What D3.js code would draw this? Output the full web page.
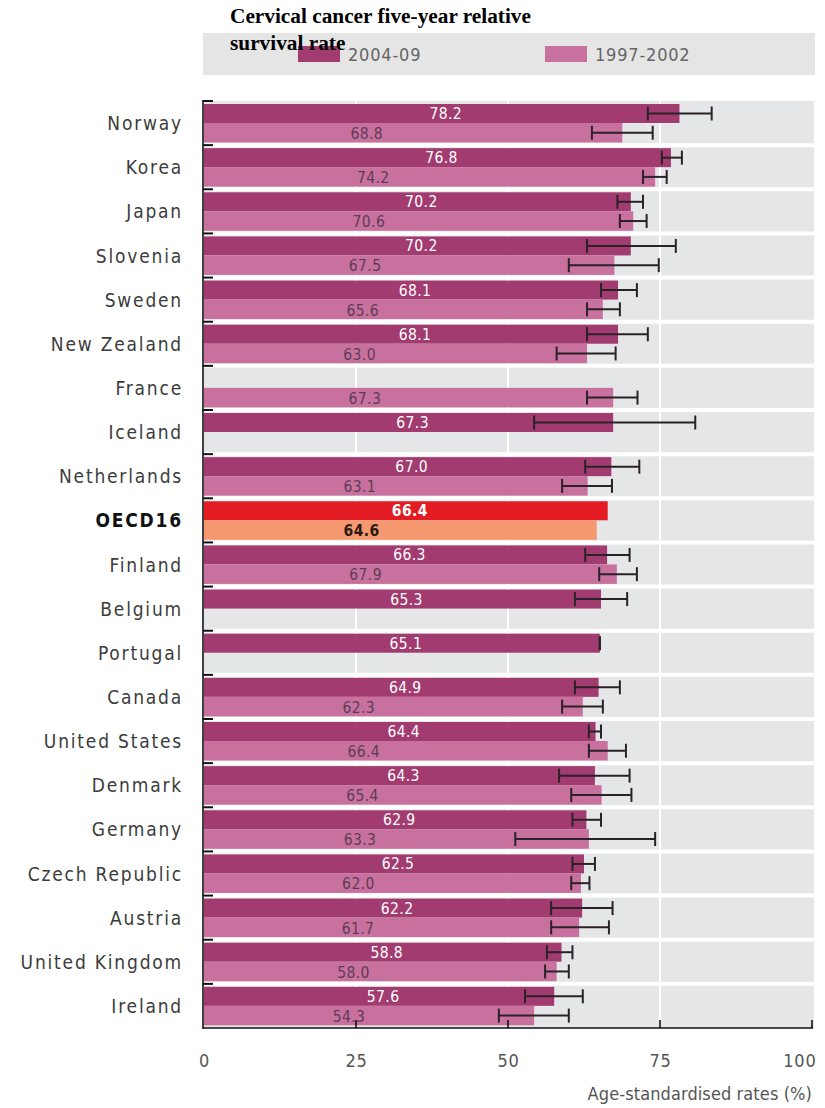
<!DOCTYPE html>
<html>
<head>
<meta charset="utf-8">
<script src="https://cdn.jsdelivr.net/npm/d3@7"></script>
<style>
  html, body { margin: 0; padding: 0; background: #fff; }
  svg { display: block; }
  .cond { font-family: "DejaVu Sans Condensed", "DejaVu Sans", sans-serif; font-stretch: condensed; }
</style>
</head>
<body>
<svg id="chart" width="825" height="1108"></svg>
<script>
const categories = ["Norway","Korea","Japan","Slovenia","Sweden","New Zealand","France","Iceland","Netherlands","OECD16","Finland","Belgium","Portugal","Canada","United States","Denmark","Germany","Czech Republic","Austria","United Kingdom","Ireland"];
const recent      = [78.2,76.8,70.2,70.2,68.1,68.1,null,67.3,67.0,66.4,66.3,65.3,65.1,64.9,64.4,64.3,62.9,62.5,62.2,58.8,57.6];
const recentLow   = [73.0,75.3,68.0,63.0,65.3,63.0,null,54.3,62.7,null,62.7,61.0,65.1,61.0,63.3,58.4,60.6,60.6,57.1,56.4,52.8];
const recentHigh  = [83.5,78.6,72.2,77.6,71.2,73.0,null,80.8,71.6,null,70.0,69.6,65.1,68.4,65.3,70.0,65.3,64.3,67.2,60.6,62.3];
const earlier     = [68.8,74.2,70.6,67.5,65.6,63.0,67.3,null,63.1,64.6,67.9,null,null,62.3,66.4,65.4,63.3,62.0,61.7,58.0,54.3];
const earlierLow  = [63.8,72.2,68.4,60.0,63.0,58.0,63.0,null,58.9,null,65.0,null,null,58.9,63.3,60.4,51.2,60.4,57.1,56.1,48.5];
const earlierHigh = [73.8,76.1,72.8,74.8,68.4,67.7,71.3,null,67.1,null,71.2,null,null,65.6,69.4,70.3,74.2,63.4,66.6,60.0,60.0];
const seriesNames = ["2004-09","1997-2002"];
const xTicks = [0,25,50,75,100];
const highlight = "OECD16";

const svg = d3.select("#chart");
const x = d3.scaleLinear().domain([0,100]).range([204,812]);
const y = d3.scaleBand().domain(categories).range([101,1028]).paddingInner(0).paddingOuter(0);
const bw = y.bandwidth();

const colRecent = "#a23c70", colEarlier = "#c8719f";
const colRecentHi = "#e31b23", colEarlierHi = "#f5986f";
const serif = "'Liberation Serif', 'Times New Roman', serif";

// title line 1
svg.append("text").attr("x",230).attr("y",23)
  .attr("font-family",serif).attr("font-weight","bold")
  .attr("font-size",21.3).attr("fill","#000").text("Cervical cancer five-year relative");

// legend band
svg.append("rect").attr("x",203).attr("y",33).attr("width",612).attr("height",42).attr("fill","#e5e5e6");
const legX = [298, 545];
const legCols = [colRecent, colEarlier];
seriesNames.forEach((s,i) => {
  svg.append("rect").attr("x",legX[i]).attr("y",46).attr("width",42).attr("height",16).attr("fill",legCols[i]);
  svg.append("text").attr("class","cond").attr("x",legX[i]+50).attr("y",61)
    .attr("font-size",18).attr("fill","#666").attr("letter-spacing",0.8).text(s);
});
// title line 2 (drawn over the legend, as in the reference)
svg.append("text").attr("x",230).attr("y",50)
  .attr("font-family",serif).attr("font-weight","bold")
  .attr("font-size",21.3).attr("fill","#000").text("survival rate");

// plot background
svg.append("rect").attr("x",x(0)).attr("y",101).attr("width",x(100)-x(0)+2).attr("height",927).attr("fill","#e5e6e8");
// vertical gridlines
svg.append("g").selectAll("line").data([25,50,75]).join("line")
  .attr("x1",d=>x(d)).attr("x2",d=>x(d)).attr("y1",101).attr("y2",1028)
  .attr("stroke","#fff").attr("stroke-width",2);
// horizontal separators
svg.append("g").selectAll("line").data(categories.slice(1)).join("line")
  .attr("x1",x(0)).attr("x2",x(100)+2).attr("y1",d=>y(d)).attr("y2",d=>y(d))
  .attr("stroke","#fff").attr("stroke-width",4);

const rows = categories.map((c,i) => ({c, i, r: recent[i], rl: recentLow[i], rh: recentHigh[i], e: earlier[i], el: earlierLow[i], eh: earlierHigh[i]}));
const topY = d => y(d.c) + 3, topH = 19;
const botY = d => y(d.c) + 22, botH = 19.5;

// bars
svg.append("g").selectAll("rect").data(rows.filter(d=>d.r!=null)).join("rect")
  .attr("x",x(0)).attr("y",topY).attr("height",topH)
  .attr("width",d=>x(d.r)-x(0)).attr("fill",d=>d.c===highlight?colRecentHi:colRecent);
svg.append("g").selectAll("rect").data(rows.filter(d=>d.e!=null)).join("rect")
  .attr("x",x(0)).attr("y",botY).attr("height",botH)
  .attr("width",d=>x(d.e)-x(0)).attr("fill",d=>d.c===highlight?colEarlierHi:colEarlier);

// error bars
function errBars(data, lo, hi, yc) {
  const g = svg.append("g").attr("stroke","#2a2226").attr("stroke-width",2);
  const dd = data.filter(d=>d[lo]!=null);
  g.selectAll(".h").data(dd).join("line").attr("class","h")
    .attr("x1",d=>x(d[lo])).attr("x2",d=>x(d[hi])).attr("y1",yc).attr("y2",yc);
  g.selectAll(".l").data(dd).join("line").attr("class","l")
    .attr("x1",d=>x(d[lo])).attr("x2",d=>x(d[lo])).attr("y1",d=>yc(d)-7).attr("y2",d=>yc(d)+7);
  g.selectAll(".r").data(dd).join("line").attr("class","r")
    .attr("x1",d=>x(d[hi])).attr("x2",d=>x(d[hi])).attr("y1",d=>yc(d)-7).attr("y2",d=>yc(d)+7);
}
errBars(rows, "rl", "rh", d => topY(d) + topH/2);
errBars(rows, "el", "eh", d => botY(d) + botH/2);

// value labels
svg.append("g").selectAll("text").data(rows.filter(d=>d.r!=null)).join("text")
  .attr("class","cond").attr("x",d=>x(d.r/2)+4).attr("y",d=>topY(d)+15)
  .attr("text-anchor","middle").attr("font-size",15.5).attr("font-weight",d=>d.c===highlight?"bold":"normal")
  .attr("fill","#fff").attr("letter-spacing",0.4).text(d=>d.r.toFixed(1));
svg.append("g").selectAll("text").data(rows.filter(d=>d.e!=null)).join("text")
  .attr("class","cond").attr("x",d=>x(d.e*0.2+13)).attr("y",d=>botY(d)+16)
  .attr("text-anchor","middle").attr("font-size",15.5).attr("font-weight",d=>d.c===highlight?"bold":"normal")
  .attr("fill",d=>d.c===highlight?"#2a1a10":"#5e3c55").attr("letter-spacing",0.4).text(d=>d.e.toFixed(1));

// category labels
svg.append("g").selectAll("text").data(categories).join("text")
  .attr("class","cond").attr("x",183).attr("y",d=>y(d)+bw/2+7)
  .attr("text-anchor","end").attr("font-size",19)
  .attr("font-weight",d=>d===highlight?"bold":"normal")
  .attr("fill",d=>d===highlight?"#111":"#3c3c3c").attr("letter-spacing",1.8).text(d=>d);

// left axis + row ticks
svg.append("line").attr("x1",203).attr("x2",203).attr("y1",100).attr("y2",1029).attr("stroke","#111").attr("stroke-width",1.6);
svg.append("g").selectAll("line").data(categories).join("line")
  .attr("x1",203).attr("x2",213).attr("y1",d=>y(d)).attr("y2",d=>y(d))
  .attr("stroke","#111").attr("stroke-width",2);

// bottom axis
const xAxis = d3.axisBottom(x).tickValues(xTicks).tickSize(0).tickPadding(0).tickFormat(d3.format("d"));
const ax = svg.append("g").attr("transform","translate(0,1028)").call(xAxis);
ax.select(".domain").remove();
ax.selectAll(".tick text").attr("class","cond").attr("font-size",18).attr("fill","#555")
  .attr("letter-spacing",0.8).attr("y",39).attr("dy",0)
  .attr("text-anchor",d=>d===100?"end":"middle").attr("dx",d=>d===100?4:0);
svg.append("line").attr("x1",203).attr("x2",x(100)+1).attr("y1",1028).attr("y2",1028).attr("stroke","#111").attr("stroke-width",1.6);
svg.append("g").selectAll("line").data(xTicks.slice(1)).join("line")
  .attr("x1",d=>x(d)).attr("x2",d=>x(d)).attr("y1",1020).attr("y2",1028)
  .attr("stroke","#111").attr("stroke-width",1.6);

svg.append("text").attr("class","cond").attr("x",812).attr("y",1100).attr("text-anchor","end")
  .attr("font-size",18).attr("fill","#555").attr("letter-spacing",0.1).text("Age-standardised rates (%)");
</script>
</body>
</html>
